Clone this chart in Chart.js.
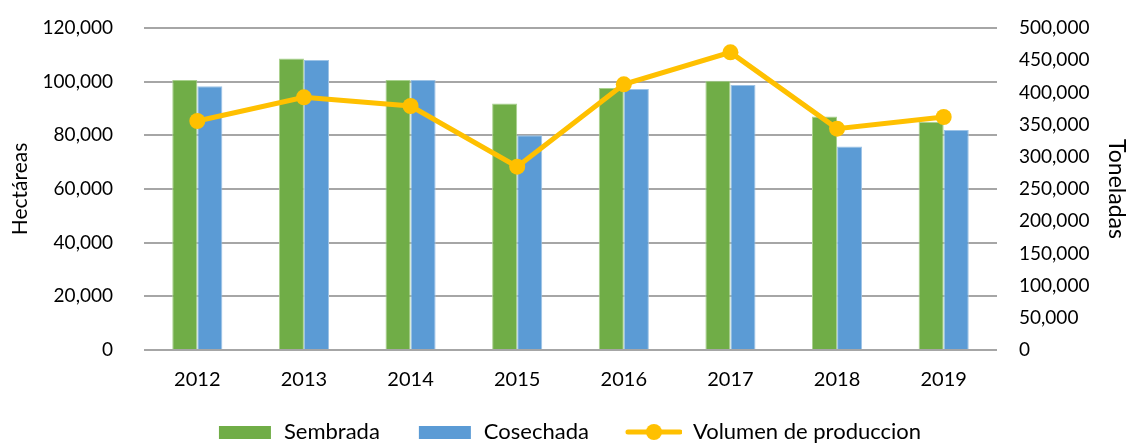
<!DOCTYPE html>
<html>
<head>
<meta charset="utf-8">
<script src="https://cdn.jsdelivr.net/npm/chart.js@4"></script>
<style>
  html, body { margin: 0; padding: 0; background: #fff; }
  #wrap { width: 1130px; height: 443px; }
</style>
</head>
<body>
<div id="wrap"><canvas id="grafico"></canvas></div>
<script>
// datos
var anios = ['2012', '2013', '2014', '2015', '2016', '2017', '2018', '2019'];
var sembrada = [100600, 108600, 100600, 91900, 97600, 100300, 87000, 85100];
var cosechada = [98300, 108100, 100600, 80000, 97300, 98800, 75800, 82000];
var volumen = [355600, 392400, 378900, 284700, 412500, 462200, 343700, 361800];

var fuente = 'Lato, "Liberation Sans", sans-serif';
var verde = '#70AD47', azul = '#5B9BD5', amarillo = '#FFC000', gris = '#A6A6A6';

// muestras de la leyenda (con 8px libres a la izquierda para separar items)
function muestra(color, esLinea) {
    var c = document.createElement('canvas');
    c.width = 64; c.height = 20;
    var g = c.getContext('2d');
    if (esLinea) {
        g.strokeStyle = color; g.lineWidth = 5; g.lineCap = 'round';
        g.beginPath(); g.moveTo(10, 10); g.lineTo(62, 10); g.stroke();
        g.fillStyle = color;
        g.beginPath(); g.arc(36, 10, 8, 0, 2 * Math.PI); g.fill();
    } else {
        g.fillStyle = color;
        g.fillRect(10, 4, 52, 13);
    }
    return c;
}
var muestras = [muestra(verde), muestra(azul), muestra(amarillo, true)];

function miles(v) { return Number(v).toLocaleString('en-US'); }

var ctx = document.getElementById('grafico').getContext('2d');
var chart = new Chart(ctx, {
    type: 'bar',
    data: {
        labels: anios,
        datasets: [{
            label: 'Sembrada',
            data: sembrada,
            backgroundColor: verde,
            borderColor: '#A9D18E',
            borderWidth: 1,
            yAxisID: 'y',
            order: 2
        },
        {
            label: 'Cosechada',
            data: cosechada,
            backgroundColor: azul,
            borderColor: '#9DC3E6',
            borderWidth: 1,
            yAxisID: 'y',
            order: 2
        },
        {
            type: 'line',
            label: 'Volumen de produccion',
            data: volumen,
            borderColor: amarillo,
            backgroundColor: amarillo,
            borderWidth: 5,
            pointRadius: 8,
            pointHoverRadius: 8,
            pointBackgroundColor: amarillo,
            pointBorderWidth: 0,
            yAxisID: 'y1',
            order: 1
        }]
    },
    options: {
        responsive: true,
        maintainAspectRatio: false,
        animation: false,
        layout: { padding: { top: 28, bottom: -10 } },
        datasets: {
            bar: { categoryPercentage: 0.47, barPercentage: 1 }
        },
        plugins: {
            legend: {
                position: 'bottom',
                labels: {
                    font: { family: fuente, size: 22 },
                    color: '#000',
                    usePointStyle: true,
                    pointStyleWidth: 64,
                    boxHeight: 20,
                    padding: 29,
                    generateLabels: function(ch) {
                        var items = Chart.defaults.plugins.legend.labels.generateLabels(ch);
                        items.sort(function(a, b) { return a.datasetIndex - b.datasetIndex; });
                        items.forEach(function(it) { it.pointStyle = muestras[it.datasetIndex]; });
                        return items;
                    }
                }
            },
            tooltip: { enabled: false }
        },
        scales: {
            x: {
                grid: { display: false, drawTicks: true, tickLength: 18 },
                border: { display: false },
                ticks: { font: { family: fuente, size: 20 }, color: '#000', padding: 0 }
            },
            y: {
                position: 'left',
                min: 0,
                max: 120000,
                afterFit: function(s) { s.width = 144; },
                ticks: {
                    stepSize: 20000,
                    font: { family: fuente, size: 19 },
                    color: '#000',
                    padding: 4,
                    callback: miles
                },
                grid: { color: gris, lineWidth: 2, drawTicks: true, tickLength: 27, tickColor: 'rgba(0,0,0,0)' },
                border: { display: false },
                title: {
                    display: true,
                    text: 'Hectáreas',
                    font: { family: fuente, size: 21 },
                    color: '#000',
                    padding: { top: 8, bottom: 0 }
                }
            },
            y1: {
                position: 'right',
                min: 0,
                max: 500000,
                afterFit: function(s) { s.width = 133; },
                ticks: {
                    stepSize: 50000,
                    font: { family: fuente, size: 19 },
                    color: '#000',
                    padding: 4,
                    callback: miles
                },
                grid: { display: false, drawTicks: true, tickLength: 18 },
                border: { display: false },
                title: {
                    display: true,
                    text: 'Toneladas',
                    font: { family: fuente, size: 23 },
                    color: '#000',
                    padding: { top: 0, bottom: 1 }
                }
            }
        }
    }
});
</script>
</body>
</html>
